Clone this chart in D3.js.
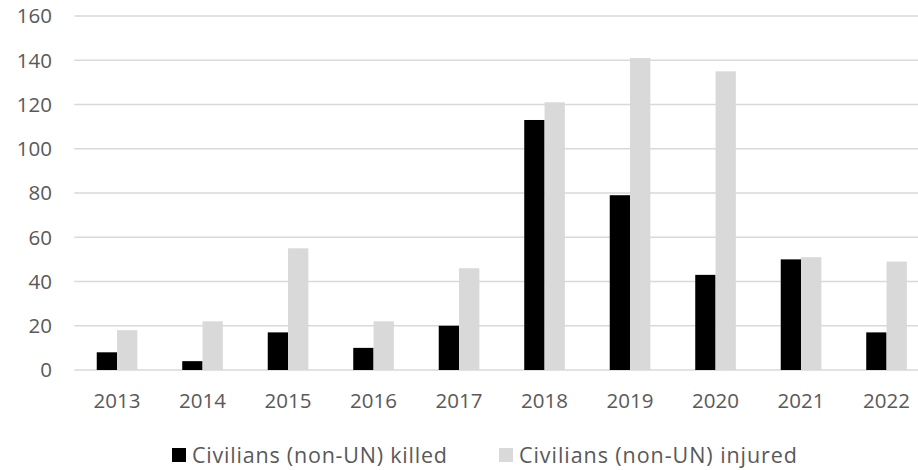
<!DOCTYPE html>
<html>
<head>
<meta charset="utf-8">
<script src="https://cdn.jsdelivr.net/npm/d3@7"></script>
<style>
  body { margin: 0; background: #fff; }
  text { font-family: "Open Sans", "Noto Sans", sans-serif; fill: #595959; }
</style>
</head>
<body>
<div id="chart"></div>
<script>
// data
var years = ["2013","2014","2015","2016","2017","2018","2019","2020","2021","2022"];
var killed = [8, 4, 17, 10, 20, 113, 79, 43, 50, 17];
var injured = [18, 22, 55, 22, 46, 121, 141, 135, 51, 49];
var seriesNames = ["Civilians (non-UN) killed", "Civilians (non-UN) injured"];
var seriesColors = ["#000000", "#d9d9d9"];
var yTicks = [0, 20, 40, 60, 80, 100, 120, 140, 160];

var width = 918, height = 470;
var plotLeft = 74.3, plotRight = 929.3, plotTop = 16, plotBottom = 370;

var svg = d3.select("#chart").append("svg")
    .attr("width", width)
    .attr("height", height);

var y = d3.scaleLinear().domain([0, 160]).range([plotBottom, plotTop]);
var x0 = d3.scaleBand().domain(years).range([plotLeft, plotRight])
    .paddingInner(0.525).paddingOuter(0.2625);
var x1 = d3.scaleBand().domain([0, 1]).range([0, x0.bandwidth()]);

// gridlines
svg.append("g").selectAll("line")
    .data(yTicks)
    .enter().append("line")
    .attr("x1", plotLeft).attr("x2", plotRight)
    .attr("y1", function(d){ return y(d); })
    .attr("y2", function(d){ return y(d); })
    .attr("stroke", "#d9d9d9")
    .attr("stroke-width", 1.3);

// y labels
svg.append("g").selectAll("text")
    .data(yTicks)
    .enter().append("text")
    .attr("x", 52)
    .attr("y", function(d){ return y(d); })
    .attr("dy", "0.36em")
    .attr("text-anchor", "end")
    .attr("font-size", 20.5)
    .text(function(d){ return d; });

// bars
var rows = years.map(function(yr, i){ return { year: yr, vals: [killed[i], injured[i]] }; });
var groups = svg.append("g").selectAll("g")
    .data(rows)
    .enter().append("g")
    .attr("transform", function(d){ return "translate(" + x0(d.year) + ",0)"; });

groups.selectAll("rect")
    .data(function(d){ return d.vals.map(function(v, k){ return { k: k, v: v }; }); })
    .enter().append("rect")
    .attr("x", function(d){ return x1(d.k); })
    .attr("width", x1.bandwidth())
    .attr("y", function(d){ return y(d.v); })
    .attr("height", function(d){ return y(0) - y(d.v); })
    .attr("fill", function(d){ return seriesColors[d.k]; });

// x labels
svg.append("g").selectAll("text")
    .data(years)
    .enter().append("text")
    .attr("x", function(d){ return x0(d) + x0.bandwidth() / 2; })
    .attr("y", 408)
    .attr("text-anchor", "middle")
    .attr("font-size", 20.5)
    .text(function(d){ return d; });

// legend
var legendX = [172, 499];
var legendW = [255, 278];
var legend = svg.append("g").selectAll("g")
    .data(seriesNames)
    .enter().append("g")
    .attr("transform", function(d, i){ return "translate(" + legendX[i] + ",0)"; });
legend.append("rect")
    .attr("x", 0).attr("y", 448)
    .attr("width", 14).attr("height", 14)
    .attr("fill", function(d, i){ return seriesColors[i]; });
legend.append("text")
    .attr("x", 20).attr("y", 463)
    .attr("font-size", 21.5)
    .attr("textLength", function(d, i){ return legendW[i]; })
    .attr("lengthAdjust", "spacing")
    .text(function(d){ return d; });
</script>
</body>
</html>
